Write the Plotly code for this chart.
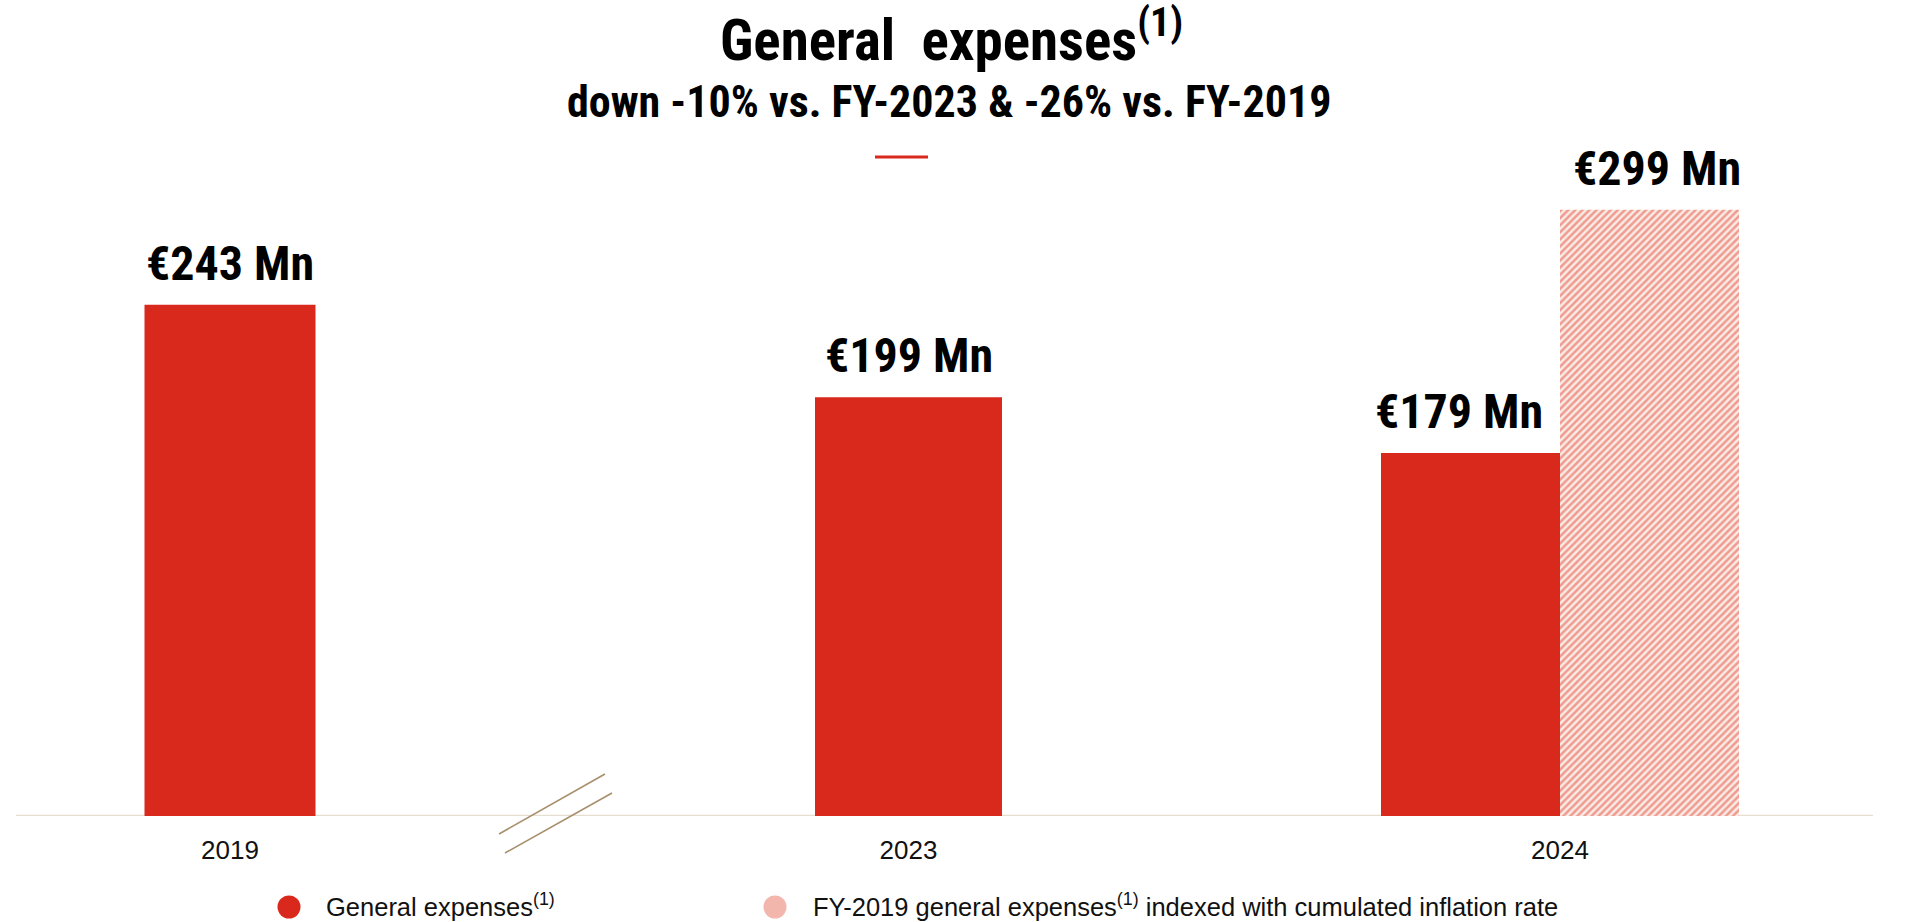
import plotly.graph_objects as go

# ---- data -------------------------------------------------------------
years = ["2019", "2023", "2024"]
general_expenses = [243, 199, 179]            # € Mn
indexed_year = "2024"
indexed_2019_expenses = 299                   # FY-2019 expenses indexed with inflation, € Mn
series_names = [
    "General expenses<sup>(1)</sup>",
    "FY-2019 general expenses<sup>(1)</sup> indexed with cumulated inflation rate",
]
title_text = "General\u00a0 expenses<sup>(1)</sup>"
subtitle_text = "down -10% vs. FY-2023 & -26% vs. FY-2019"

# ---- styling ----------------------------------------------------------
W, H = 1911, 922
RED = "#d9291c"
STRIPE = "#f09a90"
STRIPE_BG = "#f8ece5"
STRIPE_MIX = "#f2b6ad"
BASE = "#e7ded2"
BREAK = "#a88f6c"
HEAD = "Roboto Condensed, Liberation Sans, Arial, sans-serif"
SANS = "Liberation Sans, Arial, sans-serif"


def fx(p):
    return p / W


def fy(p):
    return 1 - p / H


# plot band: baseline at 816 px, top at 150 px
Y_DOM = [fy(816), fy(150)]

# three panels, each with its own category axis
panels = [
    dict(xa="x", ya="y", dom=(60, 400), bar=171),
    dict(xa="x2", ya="y", dom=(740, 1077), bar=187),
    dict(xa="x3", ya="y3", dom=(1310, 1810), bar=179),
]

fig = go.Figure()
annotations = []
label_font = dict(family=HEAD, size=48, color="#000000", weight="bold")


def value_label(xa, ya, x, v, nudge=0):
    annotations.append(dict(
        xref=xa, yref=ya, x=x, y=v, text=f"€{v} Mn", showarrow=False,
        xanchor="center", yanchor="bottom", yshift=11, xshift=nudge, font=label_font,
    ))


for year, value, p in zip(years, general_expenses, panels):
    span = p["dom"][1] - p["dom"][0]
    w = p["bar"] / span
    paired = year == indexed_year
    offset = -w if paired else -w / 2
    fig.add_trace(go.Bar(
        x=[year], y=[value], width=[w], offset=offset,
        marker=dict(color=RED, line=dict(width=0)),
        xaxis=p["xa"], yaxis=p["ya"], showlegend=False, hoverinfo="skip",
    ))
    # annotation x given as category index (0 = the panel's only category)
    value_label(p["xa"], p["ya"], offset + w / 2, value, nudge=-12 if paired else 0)

    if paired:
        fig.add_trace(go.Bar(
            x=[indexed_year], y=[indexed_2019_expenses], width=[w], offset=0,
            marker=dict(
                color=STRIPE_BG, line=dict(width=0),
                pattern=dict(shape="/", fgcolor=STRIPE, bgcolor=STRIPE_BG,
                             size=5, solidity=0.5, fillmode="replace"),
            ),
            xaxis=p["xa"], yaxis=p["ya"], showlegend=False, hoverinfo="skip",
        ))
        value_label(p["xa"], p["ya"], w / 2, indexed_2019_expenses, nudge=7)

# ---- axes -------------------------------------------------------------
axis_common = dict(
    type="category", range=[-0.5, 0.5], showgrid=False, zeroline=False,
    showline=False, ticks="", ticklabelstandoff=16,
    tickfont=dict(family=SANS, size=26, color="#111111"), fixedrange=True,
)
layout_axes = {}
for i, p in enumerate(panels):
    key = "xaxis" if i == 0 else f"xaxis{i + 1}"
    layout_axes[key] = dict(axis_common, domain=[fx(p["dom"][0]), fx(p["dom"][1])],
                            anchor=p["ya"])

ypx = 816 - 150
layout_axes["yaxis"] = dict(domain=Y_DOM, range=[0, ypx / 2.104], visible=False,
                            fixedrange=True, anchor="x")
layout_axes["yaxis3"] = dict(domain=Y_DOM, range=[0, ypx / 2.0275], visible=False,
                             fixedrange=True, anchor="x3")

# ---- title block ------------------------------------------------------
annotations += [
    dict(xref="paper", yref="paper", x=fx(951), y=fy(37), text=title_text,
         showarrow=False, xanchor="center", yanchor="middle",
         font=dict(family=HEAD, size=57, color="#000000", weight="bold")),
    dict(xref="paper", yref="paper", x=fx(949), y=fy(102), text=subtitle_text,
         showarrow=False, xanchor="center", yanchor="middle",
         font=dict(family=HEAD, size=44, color="#000000", weight="bold")),
]

shapes = [
    # accent rule under the subtitle
    dict(type="line", xref="paper", yref="paper", x0=fx(875), x1=fx(928),
         y0=fy(157), y1=fy(157), line=dict(color=RED, width=3)),
    # baseline across the panels
    dict(type="line", xref="paper", yref="y", x0=fx(16), x1=fx(1873), y0=0, y1=0,
         line=dict(color=BASE, width=2.5), layer="below"),
    # axis-break marks between 2019 and 2023
    dict(type="line", xref="paper", yref="paper", x0=fx(499), y0=fy(834),
         x1=fx(605), y1=fy(774), line=dict(color=BREAK, width=1.6)),
    dict(type="line", xref="paper", yref="paper", x0=fx(505), y0=fy(853),
         x1=fx(612), y1=fy(793), line=dict(color=BREAK, width=1.6)),
]

# ---- legend -----------------------------------------------------------
legend_items = [
    dict(cx=289, text_x=324, fill=RED, name=series_names[0]),
    dict(cx=775, text_x=811, fill=STRIPE_MIX, name=series_names[1]),
]
for item in legend_items:
    r = 11.5
    shapes.append(dict(type="circle", xref="paper", yref="paper",
                       x0=fx(item["cx"] - r), x1=fx(item["cx"] + r),
                       y0=fy(907 + r), y1=fy(907 - r),
                       fillcolor=item["fill"], line=dict(width=0)))
    annotations.append(dict(xref="paper", yref="paper", x=fx(item["text_x"]), y=fy(905),
                            text=item["name"], showarrow=False, xanchor="left",
                            yanchor="middle",
                            font=dict(family=SANS, size=25.5, color="#111111")))

fig.update_layout(
    width=W, height=H, autosize=False,
    margin=dict(l=0, r=0, t=0, b=0),
    paper_bgcolor="white", plot_bgcolor="white",
    barmode="overlay", showlegend=False,
    annotations=annotations, shapes=shapes,
    **layout_axes,
)

fig.write_html("out.html")
